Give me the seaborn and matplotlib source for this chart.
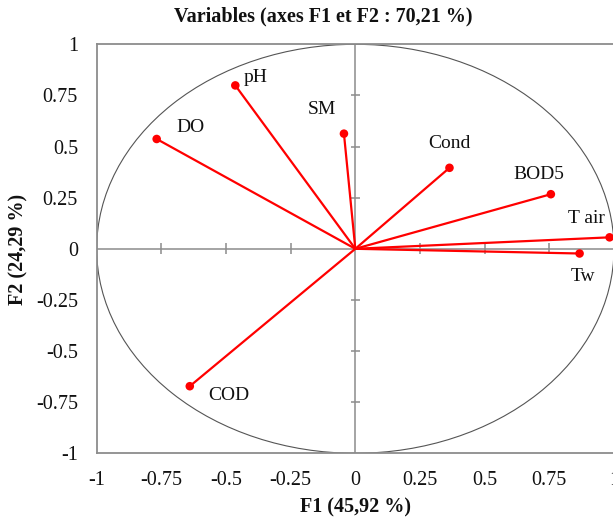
import numpy as np
import pandas as pd
import seaborn as sns
import matplotlib.pyplot as plt
from matplotlib.patches import Circle

# loadings on F1 / F2
variables = ['pH', 'DO', 'SM', 'Cond', 'BOD5', 'T air', 'Tw', 'COD']
f1 = [-0.464, -0.768, -0.044, 0.364, 0.756, 0.983, 0.867, -0.640]
f2 = [0.799, 0.537, 0.563, 0.396, 0.267, 0.056, -0.023, -0.672]

ticks = [-1, -0.75, -0.5, -0.25, 0, 0.25, 0.5, 0.75, 1]
title = 'Variables (axes F1 et F2 : 70,21 %)'
xlab = 'F1 (45,92 %)'
ylab = 'F2 (24,29 %)'

# label offsets in pixels (dx, dy, ha)
offsets = {
    'pH': (8, 8, 'left'),
    'DO': (20, 11, 'left'),
    'SM': (-22, 24, 'center'),
    'Cond': (0, 24, 'center'),
    'BOD5': (-12, 20, 'center'),
    'T air': (-23, 19, 'center'),
    'Tw': (3, -23, 'center'),
    'COD': (18, -9, 'left'),
}

df = pd.DataFrame({'var': variables, 'F1': f1, 'F2': f2})

sns.set_theme(style='white')
plt.rcParams['font.family'] = ['Liberation Serif', 'DejaVu Serif']

fig = plt.figure(figsize=(6.13, 5.2), dpi=100)
ax = fig.add_axes([0.1577, 0.1283, 0.8439, 0.7865])

grey = '#8c8c8c'
# axes through origin
ax.axhline(0, color=grey, lw=1.1, zorder=1)
ax.axvline(0, color=grey, lw=1.1, zorder=1)
inner = [t for t in ticks if t not in (-1, 0, 1)]
ax.vlines(inner, -0.027, 0.027, color=grey, lw=1.1, zorder=1)
ax.hlines(inner, -0.018, 0.018, color=grey, lw=1.1, zorder=1)

# correlation circle
ax.add_patch(Circle((0, 0), 1, fill=False, ec='#555555', lw=0.8, zorder=1))

# vectors
for _, r in df.iterrows():
    ax.plot([0, r.F1], [0, r.F2], color='#ff0000', lw=1.6, zorder=2,
            solid_capstyle='round')
sns.scatterplot(data=df, x='F1', y='F2', ax=ax, color='#ff0000', s=38,
                edgecolor='none', zorder=3, legend=False)

for _, r in df.iterrows():
    dx, dy, ha = offsets[r['var']]
    ax.annotate(r['var'], (r.F1, r.F2), xytext=(dx, dy),
                textcoords='offset pixels', ha=ha, va='center',
                fontsize=14, color='#111111')

ax.set_xlim(-1, 1)
ax.set_ylim(-1, 1)
ax.set_xticks(ticks)
ax.set_yticks(ticks)
ax.set_xticklabels([f'{t:g}' for t in ticks])
ax.set_yticklabels([f'{t:g}' for t in ticks])
ax.tick_params(axis='both', length=0, labelsize=14.5, colors='#111111')
ax.tick_params(axis='y', pad=13.5)
ax.tick_params(axis='x', pad=13)
ax.set_xlabel('')
ax.set_ylabel('')
for s in ax.spines.values():
    s.set_color(grey)
    s.set_linewidth(1.3)

fig.text(323 / 613, 1 - 16 / 520, title, ha='center', va='center',
         fontsize=14.5, fontweight='bold', color='#111111')
fig.text(355 / 613, 1 - 507 / 520, xlab, ha='center', va='center',
         fontsize=14.5, fontweight='bold', color='#111111')
fig.text(18 / 613, 1 - 249 / 520, ylab, ha='center', va='center',
         rotation=90, fontsize=14.5, fontweight='bold', color='#111111')

fig.savefig('out.png', dpi=100)
